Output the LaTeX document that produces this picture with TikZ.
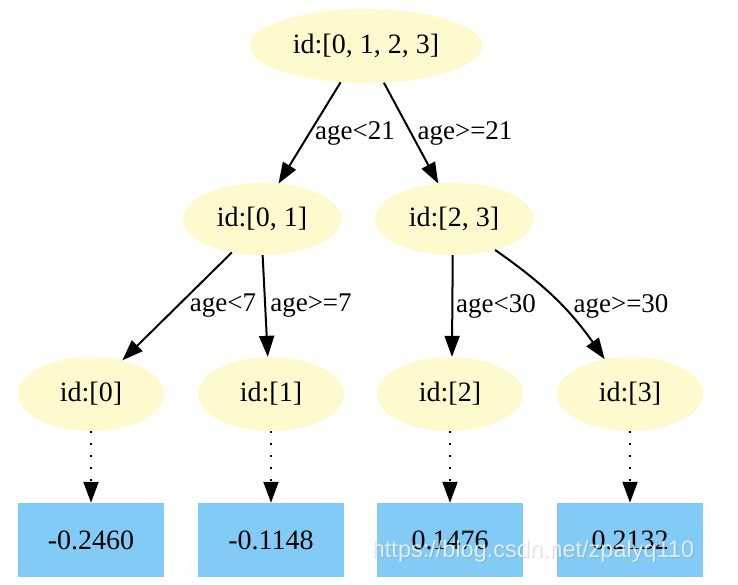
\documentclass[tikz,border=0pt]{standalone}
\usepackage{fontspec}
\setmainfont{Liberation Serif}
\newfontfamily\wmfont{Liberation Sans}
\usetikzlibrary{shapes.geometric,arrows.meta}
\definecolor{nodeyellow}{HTML}{FFFACD}
\definecolor{leafblue}{HTML}{82CBF6}
\tikzset{
  splitnode/.style={ellipse, fill=nodeyellow, inner sep=0pt, font=\fontsize{28}{32}\selectfont},
  bignode/.style={splitnode, minimum width=232pt, minimum height=74pt},
  midnode/.style={splitnode, minimum width=158pt, minimum height=72pt},
  leafnode/.style={splitnode, minimum width=146pt, minimum height=74pt},
  valbox/.style={rectangle, fill=leafblue, inner sep=0pt, minimum width=146pt, minimum height=74pt, font=\fontsize{28}{32}\selectfont},
  edgelbl/.style={inner sep=0pt, font=\fontsize{27}{31}\selectfont},
  tree/.style={line width=2pt, -{Triangle[length=21pt, width=15pt]}},
  leafedge/.style={line width=2pt, dash pattern=on 2pt off 10pt, -{Triangle[length=21pt, width=15pt]}},
}
\begin{document}
\begin{tikzpicture}[x=1pt, y=-1pt]
\useasboundingbox (0,0) rectangle (738,585);
\node[bignode] (root) at (366,46) {id:[0, 1, 2, 3]};
\node[midnode] (n01) at (262,219) {id:[0, 1]};
\node[midnode] (n23) at (454,219) {id:[2, 3]};
\node[leafnode] (l0) at (91,394) {id:[0]};
\node[leafnode] (l1) at (271,394) {id:[1]};
\node[leafnode] (l2) at (450,394) {id:[2]};
\node[leafnode] (l3) at (630,394) {id:[3]};
\node[valbox] (v0) at (91,540) {-0.2460};
\node[valbox] (v1) at (271,540) {-0.1148};
\node[valbox] (v2) at (450,540) {0.1476};
\node[valbox] (v3) at (630,540) {0.2132};

\draw[tree] (root.235) -- (n01.65);
\draw[tree] (root.296) -- (n23.114);
\draw[tree] (n01.228) -- (l0.47);
\draw[tree] (n01.271) -- (l1.95);
\draw[tree] (n23.268) -- (l2.87);
\draw[tree] (n23.323) to[bend left=10] (l3.126);

\node[edgelbl] (e1) at (355,133) {age<21};
\node[edgelbl] (e2) at (465,133) {age>=21};
\node[edgelbl] (e3) at (223,306) {age<7};
\node[edgelbl] (e4) at (311,306) {age>=7};
\node[edgelbl] (e5) at (496,306) {age<30};
\node[edgelbl] (e6) at (621,306) {age>=30};

\draw[leafedge] (l0.south) -- (v0.north);
\draw[leafedge] (l1.south) -- (v1.north);
\draw[leafedge] (l2.south) -- (v2.north);
\draw[leafedge] (l3.south) -- (v3.north);

\node[inner sep=0pt, text=gray, opacity=0.3, font=\wmfont\fontsize{23.5}{26}\selectfont] (wmshadow) at (534,552) {https://blog.csdn.net/zpalyq110};
\node[inner sep=0pt, text=white, opacity=0.75, font=\wmfont\fontsize{23.5}{26}\selectfont] (wm) at (533,551) {https://blog.csdn.net/zpalyq110};
\end{tikzpicture}
\end{document}
